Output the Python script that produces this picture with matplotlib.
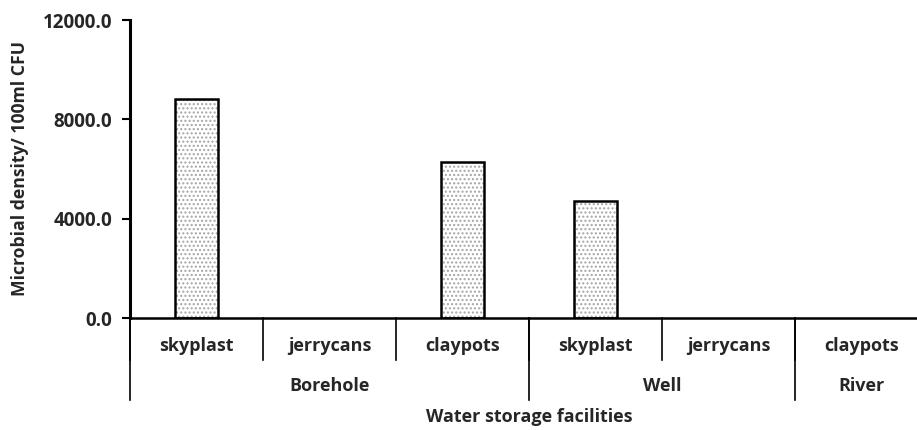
import matplotlib
matplotlib.use("Agg")
import matplotlib.pyplot as plt
import matplotlib.transforms as mtransforms
import numpy as np

plt.rcParams['font.family'] = ['Open Sans', 'DejaVu Sans']
plt.rcParams['font.weight'] = 'bold'

categories = ["skyplast", "jerrycans", "claypots", "skyplast", "jerrycans", "claypots"]
groups = ["Borehole", "Well", "River"]
group_sizes = [3, 2, 1]
values = [8800, 0, 6300, 4700, 0, 0]
yticks = [0, 4000, 8000, 12000]

FS = 13
TC = '#262626'

fig = plt.figure(figsize=(9.17, 4.30), dpi=100)
W, H = 917, 430
left, right, top, bottom = 130, 928, 20, 318
ax = fig.add_axes([left / W, 1 - bottom / H, (right - left) / W, (bottom - top) / H])

x = np.arange(len(categories)) + 0.5
vals = np.array(values, dtype=float)
nz = vals > 0
bw = 0.32
ax.bar(x[nz], vals[nz], width=bw, color='white', edgecolor='#a5a5a5', hatch='....', linewidth=0, zorder=2)
ax.bar(x[nz], vals[nz], width=bw, color='none', edgecolor='black', linewidth=1.8, zorder=3)

ax.set_xlim(0, len(categories))
ax.set_ylim(0, 12000)
ax.set_yticks(yticks)
ax.set_yticklabels([f"{v:.1f}" for v in yticks], fontsize=13.5, fontweight='bold', color=TC)
ax.tick_params(axis='y', direction='out', length=6, width=1.5, pad=7)
ax.set_xticks([])
for s in ['top', 'right']:
    ax.spines[s].set_visible(False)
ax.spines['left'].set_linewidth(2.2)
ax.spines['bottom'].set_linewidth(1.8)
ax.set_ylabel("Microbial density/ 100ml CFU", fontsize=FS - 0.3, fontweight='bold', color=TC, labelpad=10)

trans = mtransforms.blended_transform_factory(ax.transData, fig.transFigure)
y0 = 1 - bottom / H
y_cat_line = 1 - 360 / H
y_grp_line = 1 - 400 / H
y_cat_txt = 1 - 346 / H
y_grp_txt = 1 - 386 / H

for i in range(len(categories) + 1):
    ax.plot([i, i], [y0, y_cat_line], color='black', lw=1.2, transform=trans, clip_on=False)
for xi, c in zip(x, categories):
    ax.text(xi, y_cat_txt, c, transform=trans, ha='center', va='center', fontsize=FS,
            fontweight='bold', color=TC)

edges = np.concatenate([[0], np.cumsum(group_sizes)])
for e in edges:
    ax.plot([e, e], [y0, y_grp_line], color='black', lw=1.2, transform=trans, clip_on=False)
for g, a, b in zip(groups, edges[:-1], edges[1:]):
    ax.text((a + b) / 2, y_grp_txt, g, transform=trans, ha='center', va='center', fontsize=FS,
            fontweight='bold', color=TC)

fig.text(529 / W, 1 - 417 / H, "Water storage facilities", ha='center', va='center',
         fontsize=FS, fontweight='bold', color=TC)

fig.savefig("out.png", dpi=100)
